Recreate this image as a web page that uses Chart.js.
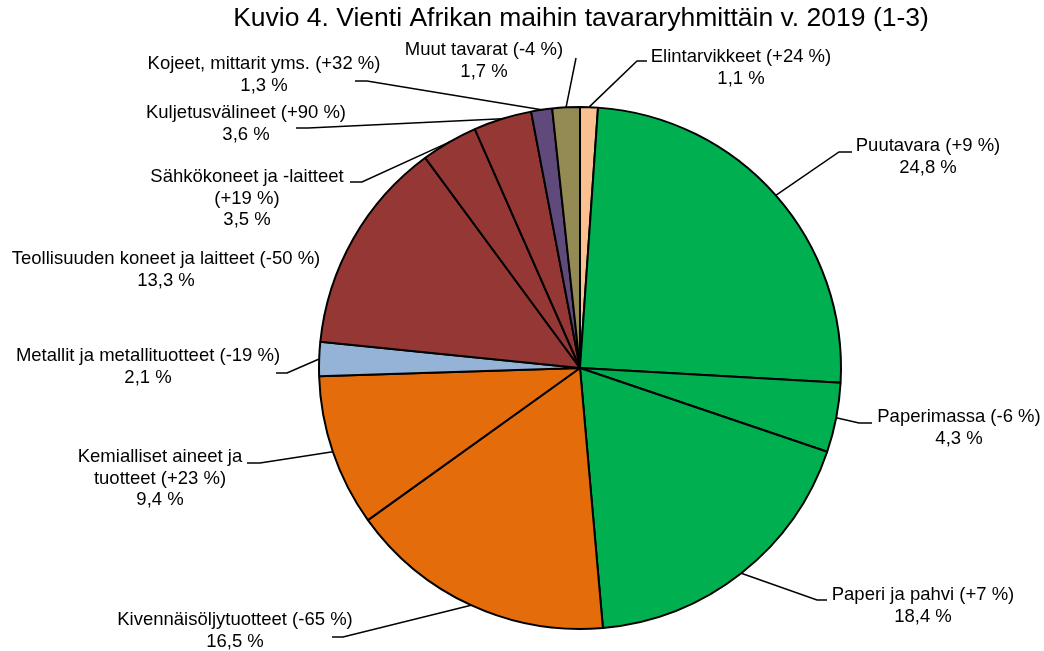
<!DOCTYPE html>
<html lang="fi">
<head>
<meta charset="utf-8">
<title>Kuvio 4. Vienti Afrikan maihin tavararyhmittäin v. 2019 (1-3)</title>
<script src="https://cdn.jsdelivr.net/npm/chart.js@4.4.1/dist/chart.umd.min.js"></script>
<style>
    html, body { margin: 0; padding: 0; background: #ffffff; }
    #wrap { width: 1044px; height: 651px; position: relative; }
</style>
</head>
<body>
<div id="wrap"><canvas id="pieChart" width="1044" height="651"></canvas></div>
<script>
// Data (clockwise from 12 o'clock)
const titleText = 'Kuvio 4. Vienti Afrikan maihin tavararyhmittäin v. 2019 (1-3)';
const categories = [
    'Elintarvikkeet', 'Puutavara', 'Paperimassa', 'Paperi ja pahvi',
    'Kivennäisöljytuotteet', 'Kemialliset aineet ja tuotteet', 'Metallit ja metallituotteet',
    'Teollisuuden koneet ja laitteet', 'Sähkökoneet ja -laitteet', 'Kuljetusvälineet',
    'Kojeet, mittarit yms.', 'Muut tavarat'
];
const shares = [1.1, 24.8, 4.3, 18.4, 16.5, 9.4, 2.1, 13.3, 3.5, 3.6, 1.3, 1.7];
const changes = [24, 9, -6, 7, -65, 23, -19, -50, 19, 90, 32, -4];
const sliceColors = [
    '#fac090', '#00b050', '#00b050', '#00b050',
    '#e46c0a', '#e46c0a', '#95b3d7',
    '#953735', '#953735', '#953735',
    '#604a7b', '#948a54'
];

// Label placement: text centre x, first line y, wrap width, leader elbow (x of label end, x of bend, y)
const labelLayout = [
    { cx: 741, y: 57, elbow: [647, 637, 61] },
    { cx: 928, y: 146, elbow: [852, 839, 152] },
    { cx: 959, y: 417, elbow: [872, 859, 423] },
    { cx: 923, y: 595, elbow: [827, 817, 600] },
    { cx: 235, y: 620, elbow: [332, 343, 637] },
    { cx: 160, y: 457, wrap: 175, elbow: [247, 260, 463] },
    { cx: 148, y: 356, elbow: [276, 287, 373] },
    { cx: 166, y: 259, elbow: null },
    { cx: 247, y: 177, wrap: 205, elbow: [350, 362, 182] },
    { cx: 246, y: 113, elbow: [296, 308, 128] },
    { cx: 264, y: 64, elbow: [355, 367, 81] },
    { cx: 484, y: 50, elbow: [576, 576, 58] }
];

const FONT = '"Liberation Sans", Arial, sans-serif';
const LABEL_SIZE = 18.5;
const LINE_H = 21.5;

function fmt(v) {
    return v.toFixed(1).replace('.', ',') + ' %';
}

function wrapText(ctx, text, maxWidth) {
    const words = text.split(' ');
    const lines = [];
    let cur = '';
    words.forEach(w => {
        const test = cur ? cur + ' ' + w : w;
        if (cur && ctx.measureText(test).width > maxWidth) {
            lines.push(cur);
            cur = w;
        } else {
            cur = test;
        }
    });
    if (cur) lines.push(cur);
    return lines;
}

const pieLabels = {
    id: 'pieLabels',
    afterDatasetsDraw(chart) {
        const ctx = chart.ctx;
        const arcs = chart.getDatasetMeta(0).data;
        ctx.save();
        ctx.fillStyle = '#000000';
        ctx.textAlign = 'center';
        ctx.textBaseline = 'middle';

        // title
        ctx.font = '26.5px ' + FONT;
        ctx.fillText(titleText, 581, 19);

        ctx.font = LABEL_SIZE + 'px ' + FONT;
        arcs.forEach((arc, i) => {
            const lay = labelLayout[i];
            const sign = changes[i] > 0 ? '+' : '';
            const head = categories[i] + ' (' + sign + changes[i] + ' %)';
            const lines = lay.wrap ? wrapText(ctx, head, lay.wrap) : [head];
            lines.push(fmt(shares[i]));
            lines.forEach((t, k) => ctx.fillText(t, lay.cx, lay.y + k * LINE_H));

            if (lay.elbow) {
                const p = arc.getProps(['x', 'y', 'startAngle', 'endAngle', 'outerRadius'], true);
                const mid = (p.startAngle + p.endAngle) / 2;
                const ax = p.x + Math.cos(mid) * p.outerRadius;
                const ay = p.y + Math.sin(mid) * p.outerRadius;
                ctx.beginPath();
                ctx.lineWidth = 1.5;
                ctx.strokeStyle = '#000000';
                ctx.moveTo(lay.elbow[0], lay.elbow[2]);
                ctx.lineTo(lay.elbow[1], lay.elbow[2]);
                ctx.lineTo(ax, ay);
                ctx.stroke();
            }
        });
        ctx.restore();
    }
};

new Chart(document.getElementById('pieChart').getContext('2d'), {
    type: 'pie',
    data: {
        labels: categories,
        datasets: [{
            data: shares,
            backgroundColor: sliceColors,
            borderColor: '#000000',
            borderWidth: 2
        }]
    },
    options: {
        responsive: false,
        animation: false,
        layout: { padding: { left: 318, right: 202, top: 106, bottom: 21 } },
        plugins: {
            legend: { display: false },
            tooltip: { enabled: false },
            title: { display: false }
        }
    },
    plugins: [pieLabels]
});
</script>
</body>
</html>
